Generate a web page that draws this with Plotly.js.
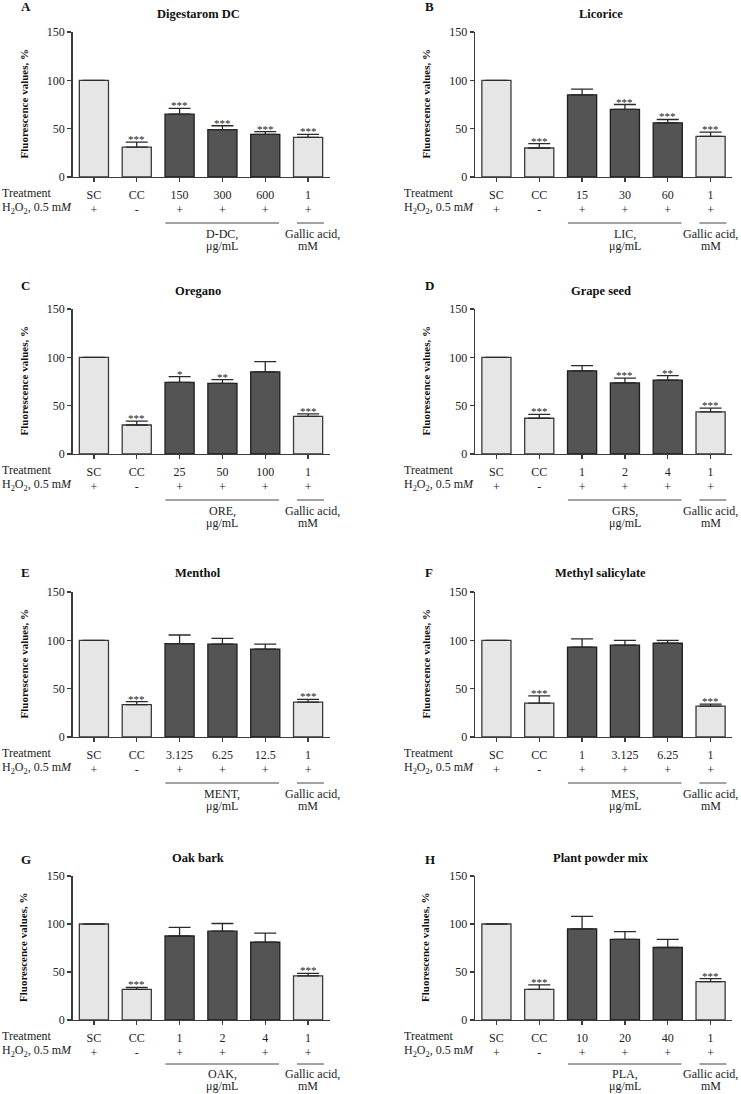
<!DOCTYPE html>
<html>
<head>
<meta charset="utf-8">
<script src="https://cdn.plot.ly/plotly-3.0.1.min.js"></script>
<style>html,body{margin:0;padding:0;background:#fff;}#chart{width:741px;height:1094px;}</style>
</head>
<body>
<div id="chart"></div>
<script>
// ---------- data ----------
const panelLetters = ['A', 'B', 'C', 'D', 'E', 'F', 'G', 'H'];
const panelTitles = ['Digestarom DC', 'Licorice', 'Oregano', 'Grape seed', 'Menthol', 'Methyl salicylate', 'Oak bark', 'Plant powder mix'];
const groupNames = ['D-DC,', 'LIC,', 'ORE,', 'GRS,', 'MENT,', 'MES,', 'OAK,', 'PLA,'];
const controlLabels = ['SC', 'CC'];
const gallicDose = '1';
const h2o2Row = ['+', '-', '+', '+', '+', '+'];

const dosesA = ['150', '300', '600'];
const dosesB = ['15', '30', '60'];
const dosesC = ['25', '50', '100'];
const dosesD = ['1', '2', '4'];
const dosesE = ['3.125', '6.25', '12.5'];
const dosesF = ['1', '3.125', '6.25'];
const dosesG = ['1', '2', '4'];
const dosesH = ['10', '20', '40'];

const valuesA = [100, 31, 65, 49, 44, 41];
const errorsA = [0, 5, 6, 4, 3, 3];
const starsA = ['', '***', '***', '***', '***', '***'];

const valuesB = [100, 30, 85, 70, 56, 42];
const errorsB = [0, 4.5, 6, 5, 3.5, 4.5];
const starsB = ['', '***', '', '***', '***', '***'];

const valuesC = [100, 30, 74, 73, 85, 39];
const errorsC = [0, 4, 6, 4, 10.5, 2.5];
const starsC = ['', '***', '*', '**', '', '***'];

const valuesD = [100, 37, 86, 73.5, 76.5, 43.5];
const errorsD = [0, 4, 5.5, 5, 4.5, 4];
const starsD = ['', '***', '', '***', '**', '***'];

const valuesE = [100, 33.5, 96.5, 96, 91, 36];
const errorsE = [0, 3, 9, 6, 5, 3];
const starsE = ['', '***', '', '', '', '***'];

const valuesF = [100, 35, 93, 95, 97, 32];
const errorsF = [0, 7.5, 8.5, 5, 3, 2];
const starsF = ['', '***', '', '', '', '***'];

const valuesG = [100, 32, 87.5, 92.5, 81, 46];
const errorsG = [0, 2, 9, 8, 9.5, 2.5];
const starsG = ['', '***', '', '', '', '***'];

const valuesH = [100, 32, 95, 84, 75.5, 40];
const errorsH = [0, 4.5, 13, 8, 8.5, 3];
const starsH = ['', '***', '', '', '', '***'];

const yTicks = [0, 50, 100, 150];

// ---------- build ----------
const panels = [
  [dosesA, valuesA, errorsA, starsA],
  [dosesB, valuesB, errorsB, starsB],
  [dosesC, valuesC, errorsC, starsC],
  [dosesD, valuesD, errorsD, starsD],
  [dosesE, valuesE, errorsE, starsE],
  [dosesF, valuesF, errorsF, starsF],
  [dosesG, valuesG, errorsG, starsG],
  [dosesH, valuesH, errorsH, starsH]
];

const W = 741, H = 1094;
const px = v => v / W;
const py = v => 1 - v / H;
const rows = [
  {top: 32, bottom: 177, letter: 7, title: 14, line: 46, g1: 57, g2: 69},
  {top: 309, bottom: 454, letter: 285, title: 291, line: 46, g1: 57, g2: 69},
  {top: 592, bottom: 737, letter: 572, title: 573, line: 46, g1: 57, g2: 69},
  {top: 876, bottom: 1020, letter: 859, title: 858, line: 44, g1: 54, g2: 66}
];
const cols = [
  {l: 72.5, r: 329.5, letterX: 19, ytitleX: 23, labelX: 0, gallicX: 5.1},
  {l: 475, r: 732, letterX: 423, ytitleX: 425, labelX: 402, gallicX: 5.0}
];

const SERIF = 'Liberation Serif, Times New Roman, serif';
const AX = '#3c3c3c';
const traces = [];
const annotations = [];
const shapes = [];
const layout = {
  width: W, height: H,
  margin: {l: 0, r: 0, t: 0, b: 0},
  paper_bgcolor: '#fff', plot_bgcolor: '#fff',
  showlegend: false,
  font: {family: SERIF, color: '#222'}
};

panels.forEach((p, k) => {
  const [doses, vals, errs, stars] = p;
  const row = rows[Math.floor(k / 2)];
  const col = cols[k % 2];
  const n = k + 1;
  const xa = 'x' + (n === 1 ? '' : n);
  const ya = 'y' + (n === 1 ? '' : n);
  const labels = controlLabels.concat(doses, [gallicDose]);
  const xs = labels.map((_, i) => i);
  const dark = i => i >= 2 && i <= 4;

  traces.push({
    type: 'bar', x: xs, y: vals, xaxis: xa, yaxis: ya, width: 0.68,
    marker: {
      color: xs.map(i => dark(i) ? '#545454' : '#e6e6e6'),
      line: {color: xs.map(i => dark(i) ? '#1e1e1e' : '#3a3a3a'), width: 1.3}
    },
    error_y: {type: 'data', symmetric: false, array: errs, arrayminus: errs.map(() => 0),
              color: '#2a2a2a', thickness: 1.3, width: 11, visible: true},
    hoverinfo: 'skip'
  });

  const axKey = 'xaxis' + (n === 1 ? '' : n);
  const ayKey = 'yaxis' + (n === 1 ? '' : n);
  layout[axKey] = {
    domain: [px(col.l), px(col.r)], anchor: ya, range: [-0.5, 5.5],
    tickmode: 'array', tickvals: xs,
    ticktext: labels.map((l, i) => l + '<br>' + h2o2Row[i]),
    ticks: 'outside', ticklen: 4, tickwidth: 1.2, tickcolor: AX,
    showline: true, linecolor: AX, linewidth: 1.3,
    showgrid: false, zeroline: false, fixedrange: true,
    tickfont: {family: SERIF, size: 12, color: '#222'}, ticklabelstandoff: 2
  };
  layout[ayKey] = {
    domain: [py(row.bottom), py(row.top)], anchor: xa, range: [0, 150],
    tickmode: 'array', tickvals: yTicks,
    ticks: 'outside', ticklen: 4, tickwidth: 1.2, tickcolor: AX,
    showline: true, linecolor: AX, linewidth: 1.3,
    showgrid: false, zeroline: false, fixedrange: true,
    tickfont: {family: SERIF, size: 12, color: '#222'}
  };

  // significance stars
  stars.forEach((s, i) => {
    if (!s) return;
    annotations.push({xref: xa, yref: ya, x: i, y: vals[i] + errs[i], text: s,
      showarrow: false, yanchor: 'bottom', yshift: -5,
      font: {family: SERIF, size: 11, color: '#222'}});
  });

  // panel letter and title
  annotations.push({xref: 'paper', yref: 'paper', x: px(col.letterX), y: py(row.letter),
    text: '<b>' + panelLetters[k] + '</b>', showarrow: false, xanchor: 'left', yanchor: 'middle',
    font: {family: SERIF, size: 13, color: '#111'}});
  annotations.push({xref: 'paper', yref: 'paper', x: px((col.l + col.r) / 2 - 3), y: py(row.title),
    text: '<b>' + panelTitles[k] + '</b>', showarrow: false, xanchor: 'center', yanchor: 'middle',
    font: {family: SERIF, size: 12.5, color: '#111'}});
  // y-axis title
  annotations.push({xref: 'paper', yref: 'paper', x: px(col.ytitleX), y: py((row.top + row.bottom) / 2),
    text: '<b>Fluorescence values, %</b>', showarrow: false, textangle: -90,
    xanchor: 'center', yanchor: 'middle', font: {family: SERIF, size: 11, color: '#111'}});
  // row labels
  annotations.push({xref: 'paper', yref: 'paper', x: px(col.labelX), y: py(row.bottom + 16),
    text: 'Treatment', showarrow: false, xanchor: 'left', yanchor: 'middle',
    font: {family: SERIF, size: 12, color: '#222'}});
  annotations.push({xref: 'paper', yref: 'paper', x: px(col.labelX), y: py(row.bottom + 31),
    text: 'H<sub>2</sub>O<sub>2</sub>, 0.5 m<i>M</i>', showarrow: false, xanchor: 'left', yanchor: 'middle',
    font: {family: SERIF, size: 12, color: '#222'}});
  // group brackets
  shapes.push({type: 'line', xref: xa, yref: 'paper', x0: 1.67, x1: 4.32,
    y0: py(row.bottom + row.line), y1: py(row.bottom + row.line), line: {color: '#444', width: 1}});
  shapes.push({type: 'line', xref: xa, yref: 'paper', x0: 4.74, x1: 5.37,
    y0: py(row.bottom + row.line), y1: py(row.bottom + row.line), line: {color: '#444', width: 1}});
  annotations.push({xref: xa, yref: 'paper', x: 3, y: py(row.bottom + row.g1),
    text: groupNames[k], showarrow: false, xanchor: 'center', yanchor: 'middle',
    font: {family: SERIF, size: 12, color: '#222'}});
  annotations.push({xref: xa, yref: 'paper', x: 3, y: py(row.bottom + row.g2),
    text: 'μg/mL', showarrow: false, xanchor: 'center', yanchor: 'middle',
    font: {family: SERIF, size: 12, color: '#222'}});
  annotations.push({xref: xa, yref: 'paper', x: col.gallicX, y: py(row.bottom + row.g1),
    text: 'Gallic acid,', showarrow: false, xanchor: 'center', yanchor: 'middle',
    font: {family: SERIF, size: 12, color: '#222'}});
  annotations.push({xref: xa, yref: 'paper', x: 5.0, y: py(row.bottom + row.g2),
    text: 'mM', showarrow: false, xanchor: 'center', yanchor: 'middle',
    font: {family: SERIF, size: 12, color: '#222'}});
});

layout.annotations = annotations;
layout.shapes = shapes;

Plotly.newPlot('chart', traces, layout, {staticPlot: true, displayModeBar: false});
</script>
</body>
</html>
